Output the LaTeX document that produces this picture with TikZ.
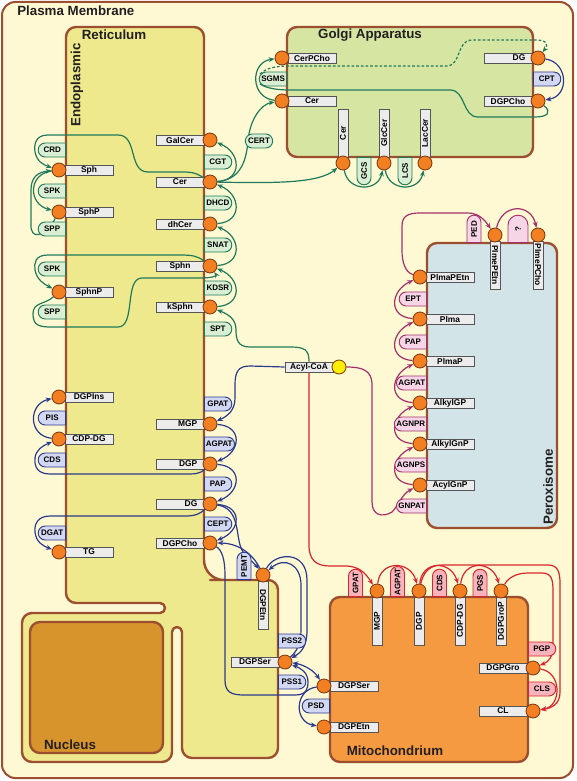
\documentclass[tikz,border=0pt]{standalone}
\usepackage{fontspec}
\setmainfont{Liberation Sans}
\usetikzlibrary{shapes.misc,arrows.meta}
\definecolor{pmfill}{HTML}{FEF9D2}
\definecolor{bord}{HTML}{9C4F30}
\definecolor{erfill}{HTML}{EEE98C}
\definecolor{gofill}{HTML}{D6E6A2}
\definecolor{pxfill}{HTML}{D3E4E8}
\definecolor{mifill}{HTML}{F59A40}
\definecolor{nufill}{HTML}{D7932C}
\definecolor{metfill}{HTML}{F28022}
\definecolor{metbord}{HTML}{7A3510}
\definecolor{labfill}{HTML}{ECECEC}
\definecolor{labbord}{HTML}{555555}
\definecolor{gline}{HTML}{1F7A5C}
\definecolor{gfill}{HTML}{D9EED3}
\definecolor{bline}{HTML}{2B3A8F}
\definecolor{bfill}{HTML}{D3D8F2}
\definecolor{pline}{HTML}{A3306E}
\definecolor{pfill}{HTML}{F6D6E6}
\definecolor{rline}{HTML}{D9262E}
\definecolor{rfill}{HTML}{F8B4BC}
\definecolor{acylfill}{HTML}{FFEE00}
\definecolor{titcol}{HTML}{231F20}
\newcommand\lblfont{\fontsize{6.3}{7}\selectfont\bfseries}
\newcommand\enzfont{\fontsize{6}{7}\selectfont\bfseries}
\newcommand\titfont{\fontsize{10}{12}\selectfont\bfseries}
\tikzset{
 met/.style={circle,fill=metfill,draw=metbord,line width=0.6pt,minimum size=10.5pt,inner sep=0pt},
 yel/.style={met,fill=acylfill},
 lab/.style={rectangle,draw=labbord,fill=labfill,line width=0.6pt,minimum width=36pt,minimum height=7.6pt,inner sep=0pt,font=\lblfont},
 labr/.style={lab,text width=26pt,align=right},
 enz/.style={rounded rectangle,line width=0.7pt,minimum width=22.5pt,minimum height=10.5pt,inner xsep=1pt,inner ysep=0pt,font=\enzfont},
 genz/.style={enz,draw=gline,fill=gfill},
 benz/.style={enz,draw=bline,fill=bfill},
 penz/.style={enz,draw=pline,fill=pfill},
 renz/.style={enz,draw=rline,fill=rfill},
 flatL/.style={rounded rectangle left arc=none},
 flatR/.style={rounded rectangle right arc=none},
 comp/.style={draw=bord,line width=1.8pt,line join=round},
 title/.style={font=\titfont,text=titcol,inner sep=0pt},
 tip/.style={-{Stealth[length=4.5pt,width=3.6pt]}},
 gl/.style={draw=gline,line width=0.9pt},
 bl/.style={draw=bline,line width=0.9pt},
 pl/.style={draw=pline,line width=0.9pt},
 rl/.style={draw=rline,line width=0.9pt},
}
\newcommand\metL[4]{\node[lab] at (#2-30,#3) {#4}; \node[met] (#1) at (#2,#3) {};}
\newcommand\metLr[4]{\node[labr] at (#2-30,#3) {#4}; \node[met] (#1) at (#2,#3) {};}
\newcommand\metR[4]{\node[lab] at (#2+30,#3) {#4}; \node[met] (#1) at (#2,#3) {};}
\newcommand\metU[4]{\node[lab,rotate=90] at (#2,#3-30) {#4}; \node[met] (#1) at (#2,#3) {};}
\newcommand\metD[5]{\node[lab,rotate=#5] at (#2,#3+30) {#4}; \node[met] (#1) at (#2,#3) {};}
\begin{document}
\begin{tikzpicture}[x=0.75pt,y=-0.75pt]
\useasboundingbox (0,0) rectangle (576,781);
% compartments
\draw[draw=bord,fill=pmfill,line width=1.5pt,rounded corners=10pt] (2,2) rectangle (573,778);
\draw[comp,fill=erfill,rounded corners=7.5pt] (66,300) -- (66,27) -- (204,27) -- (204,200)
  [rounded corners=15pt] -- (204,580) -- (230,580) [rounded corners=7.5pt] -- (278,580) -- (278,758) -- (182,758) -- (182,700)
  [rounded corners=3.75pt] -- (182,627) -- (172,627) -- (172,700) [rounded corners=7.5pt] -- (172,762) -- (22,762) -- (22,613) -- (100,613)
  [rounded corners=3.75pt] -- (165,613) -- (165,603) -- (100,603) [rounded corners=7.5pt] -- (66,603) -- cycle;
\draw[comp,fill=nufill,rounded corners=7.5pt] (30,622) rectangle (163,753);
\draw[comp,fill=gofill,rounded corners=7.5pt] (287,27) rectangle (533,157);
\draw[comp,fill=pxfill,rounded corners=7.5pt] (427,243) rectangle (557,528);
\draw[comp,fill=mifill,rounded corners=7.5pt] (330,597) rectangle (528,762);
% titles
\node[title,anchor=west] at (17,11) {Plasma Membrane};
\node[title] at (114,35) {Reticulum};
\node[title,rotate=90] at (77,85) {Endoplasmic};
\node[title] at (370,35) {Golgi Apparatus};
\node[title,rotate=90] at (548,487) {Peroxisome};
\node[title] at (395,751) {Mitochondrium};
\node[title] at (70,745) {Nucleus};
% ---- metabolites
\metL{GalCer}{210}{140}{GalCer}
\metL{Cer}{210}{182}{Cer}
\metL{dhCer}{210}{224}{dhCer}
\metL{Sphn}{210}{266}{Sphn}
\metL{kSphn}{210}{307}{kSphn}
\metLr{MGP}{210}{424}{MGP}
\metLr{DGP}{210}{464}{DGP}
\metLr{DG}{210}{504}{DG}
\metL{DGPCho}{210}{543}{DGPCho}
\metR{Sph}{59}{170}{Sph}
\metR{SphP}{59}{212}{SphP}
\metR{SphnP}{59}{292}{SphnP}
\metR{DGPIns}{59}{397}{DGPIns}
\metR{CDPDG}{59}{439}{CDP-DG}
\metR{TG}{59}{552}{TG}
\metR{gCPC}{282}{58}{CerPCho}
\metR{gCer}{282}{101}{Cer}
\metLr{gDG}{538}{58}{DG}
\metL{gPC}{538}{101}{DGPCho}
\metU{gCerB}{343}{163}{Cer}
\metU{gGlc}{384}{163}{GlcCer}
\metU{gLac}{425}{163}{LacCer}
\metR{xPE}{420}{277}{PlmaPEtn}
\metR{xPl}{420}{319}{Plma}
\metR{xPlP}{420}{361}{PlmaP}
\metR{xAGP}{420}{403}{AlkylGP}
\metR{xAGnP}{420}{444}{AlkylGnP}
\metR{xAcG}{420}{485}{AcylGnP}
\metD{xPmE}{495}{235}{PlmePEtn}{-90}
\metD{xPmC}{538}{235}{PlmePCho}{-90}
\metD{mMGP}{377}{591}{MGP}{90}
\metD{mDGP}{419}{591}{DGP}{90}
\metD{mCDP}{460}{591}{CDP-DG}{90}
\metD{mPGP}{501}{591}{DGPGroP}{90}
\metL{mPG}{533}{668}{DGPGro}
\metL{mCL}{533}{711}{CL}
\metR{mPS}{324}{686}{DGPSer}
\metR{mPE}{324}{727}{DGPEtn}
\metD{ePE}{263}{575}{DGPEtn}{-90}
\metL{ePS}{285}{662}{DGPSer}
\node[lab] (acylbox) at (309,367) {Acyl-CoA};
\node[yel] (acyl) at (339,367) {};
% ---- green connectors
\draw[gl,tip] (Cer) .. controls (243,180) and (241,152) .. (GalCer);
\draw[gl,tip] (dhCer) .. controls (243,222) and (241,194) .. (Cer);
\draw[gl,tip] (Sphn) .. controls (243,264) and (241,236) .. (dhCer);
\draw[gl,tip] (kSphn) .. controls (243,305) and (241,278) .. (Sphn);
\draw[gl,tip] (acylbox.north) .. controls (309,350) and (305,347) .. (290,347) -- (250,347) .. controls (238,347) and (236,340) .. (236,330) .. controls (236,320) and (230,315) .. (kSphn);
\draw[gl,tip] (Cer) .. controls (195,172) and (190,172) .. (180,172) -- (148,172) .. controls (128,172) and (138,135) .. (118,135) -- (48,135) .. controls (35,135) and (34,145) .. (35,152) .. controls (37,162) and (44,165) .. (Sph);
\draw[gl,tip] (Sph) .. controls (28,174) and (28,204) .. (SphP);
\draw[gl,tip] (SphP) .. controls (44,238) and (30,240) .. (31,224) -- (31,190) .. controls (31,177) and (38,172) .. (Sph);
\draw[gl,tip] (Sphn) .. controls (198,256) and (192,255) .. (180,255) -- (48,255) .. controls (35,255) and (34,263) .. (35,270) .. controls (37,280) and (44,284) .. (SphnP);
\draw[gl,tip] (SphnP) .. controls (44,305) and (33,302) .. (33,314) .. controls (33,326) and (40,327) .. (52,327) -- (118,327) .. controls (136,327) and (124,278) .. (142,278) -- (200,278) .. controls (212,278) and (217,276) .. (Sphn);
\draw[gl,tip] (Cer) .. controls (238,180) and (246,165) .. (248,141) .. controls (250,118) and (262,104) .. (gCer);
\draw[gl,tip] (Cer) .. controls (270,183) and (318,184) .. (gCerB);
\draw[gl,tip] (gCer) .. controls (250,98) and (250,62) .. (gCPC);
\draw[gl] (gPC) .. controls (552,112) and (548,117) .. (535,117) -- (478,117) .. controls (462,117) and (466,90) .. (450,90) -- (290,90) .. controls (276,90) and (266,88) .. (260,84);
\draw[gl,tip,dash pattern=on 2pt off 1.5pt] (260,74) .. controls (266,68) and (276,66) .. (290,66) -- (446,66) .. controls (462,66) and (456,40) .. (472,40) -- (536,40) .. controls (546,40) and (549,44) .. (gDG);
\draw[gl,tip] (gCerB) .. controls (348,192) and (378,192) .. (gGlc);
\draw[gl,tip] (gGlc) .. controls (389,192) and (419,192) .. (gLac);
% ---- blue connectors
\draw[bl,tip] (gDG) .. controls (568,62) and (570,96) .. (gPC);
\draw[bl,tip] (acylbox.west) -- (250,366) .. controls (238,366) and (235,372) .. (235,385) -- (235,398) .. controls (235,410) and (228,416) .. (MGP);
\draw[bl,tip] (MGP) .. controls (243,426) and (241,452) .. (DGP);
\draw[bl,tip] (DGP) .. controls (243,466) and (241,492) .. (DG);
\draw[bl,tip] (DG) .. controls (243,506) and (241,531) .. (DGPCho);
\draw[bl,tip] (DGP) .. controls (200,474) and (195,474) .. (185,474) -- (50,474) .. controls (38,474) and (34,467) .. (35,458) .. controls (36,450) and (42,446) .. (CDPDG);
\draw[bl,tip] (CDPDG) .. controls (28,436) and (28,404) .. (DGPIns);
\draw[bl,tip] (DG) .. controls (200,514) and (195,516) .. (185,516) -- (50,516) .. controls (38,516) and (34,524) .. (35,532) .. controls (36,542) and (43,546) .. (TG);
\draw[bl,tip] (DG) .. controls (238,508) and (236,530) .. (240,545) .. controls (244,558) and (252,560) .. (ePE);
\draw[bl,tip] (ePE) .. controls (252,552) and (236,543) .. (DGPCho);
\draw[bl,tip] (ePE) .. controls (275,552) and (307,550) .. (307,580) -- (307,630) .. controls (307,648) and (300,653) .. (ePS);
\draw[bl,tip] (ePS) .. controls (296,652) and (301,645) .. (301,630) -- (301,585) .. controls (301,565) and (285,556) .. (ePE);
\draw[bl,tip] (DGPCho) .. controls (222,550) and (225,560) .. (225,575) -- (225,680) .. controls (225,693) and (232,695) .. (245,695) -- (295,695) .. controls (307,695) and (308,688) .. (308,682) .. controls (308,672) and (300,668) .. (ePS);
\draw[bl,{Stealth[length=4.5pt,width=3.6pt]}-{Stealth[length=4.5pt,width=3.6pt]}] (ePS) .. controls (300,664) and (312,668) .. (mPS);
\draw[bl,tip] (mPS) .. controls (294,690) and (294,722) .. (mPE);
% ---- magenta connectors
\draw[pl,tip] (xPl) .. controls (388,317) and (390,291) .. (xPE);
\draw[pl,tip] (xPlP) .. controls (388,359) and (390,333) .. (xPl);
\draw[pl,tip] (xAGP) .. controls (388,401) and (390,375) .. (xPlP);
\draw[pl,tip] (xAGnP) .. controls (388,442) and (390,417) .. (xAGP);
\draw[pl,tip] (xAcG) .. controls (388,483) and (390,458) .. (xAGnP);
\draw[pl,tip] (acyl) .. controls (362,367) and (372,370) .. (372,385) -- (372,502) .. controls (372,515) and (382,518) .. (392,512) .. controls (398,506) and (402,494) .. (xAcG);
\draw[pl,tip] (xPE) .. controls (405,272) and (402,262) .. (402,250) -- (402,226) .. controls (402,216) and (408,213) .. (420,213) -- (468,213) .. controls (480,213) and (486,222) .. (xPmE);
\draw[pl,tip] (xPmE) .. controls (502,203) and (531,203) .. (xPmC);
% ---- red connectors
\draw[rl,tip] (acylbox.south) -- (309,545) .. controls (309,560) and (316,566) .. (330,566) -- (345,566) .. controls (360,566) and (366,574) .. (mMGP);
\draw[rl,tip] (mMGP) .. controls (380,560) and (410,560) .. (mDGP);
\draw[rl,tip] (mDGP) .. controls (422,560) and (451,560) .. (mCDP);
\draw[rl,tip] (mCDP) .. controls (463,560) and (492,560) .. (mPGP);
\draw[rl,tip] (mDGP) .. controls (423,574) and (428,565) .. (442,565) -- (548,565) .. controls (558,565) and (560,572) .. (560,584) -- (560,692) .. controls (560,704) and (552,708) .. (mCL);
\draw[rl,tip] (mPGP) .. controls (508,578) and (516,573) .. (528,573) -- (542,573) .. controls (552,573) and (553,580) .. (553,592) -- (553,645) .. controls (553,658) and (548,662) .. (mPG);
\draw[rl,tip] (mPG) .. controls (562,672) and (562,706) .. (mCL);
% ---- enzymes
\node[genz,flatL,anchor=west] at (204,162) {CGT};
\node[genz,flatL,anchor=west] at (204,203) {DHCD};
\node[genz,flatL,anchor=west] at (204,245) {SNAT};
\node[genz,flatL,anchor=west] at (204,288) {KDSR};
\node[genz,flatL,anchor=west] at (204,329) {SPT};
\node[genz,flatR,anchor=east] at (66,150) {CRD};
\node[genz,flatR,anchor=east] at (66,191) {SPK};
\node[genz,flatR,anchor=east] at (66,229) {SPP};
\node[genz,flatR,anchor=east] at (66,269) {SPK};
\node[genz,flatR,anchor=east] at (66,312) {SPP};
\node[genz] at (259,141) {CERT};
\node[genz,flatR,anchor=east] at (287,79) {SGMS};
\node[genz,flatR,rotate=90,anchor=east] at (364,157) {GCS};
\node[genz,flatR,rotate=90,anchor=east] at (405,157) {LCS};
\node[benz,flatL,anchor=west] at (533,79) {CPT};
\node[benz,flatL,anchor=west] at (204,404) {GPAT};
\node[benz,flatL,anchor=west] at (204,444) {AGPAT};
\node[benz,flatL,anchor=west] at (204,484) {PAP};
\node[benz,flatL,anchor=west] at (204,524) {CEPT};
\node[benz,flatR,anchor=east] at (66,418) {PIS};
\node[benz,flatR,anchor=east] at (66,460) {CDS};
\node[benz,flatR,anchor=east] at (66,533) {DGAT};
\node[benz,flatL,rotate=90,anchor=west] at (244,580) {PEMT};
\node[benz,flatL,anchor=west] at (278,641) {PSS2};
\node[benz,flatL,anchor=west] at (278,682) {PSS1};
\node[benz,flatR,anchor=east] at (330,706) {PSD};
\node[penz,flatR,anchor=east] at (427,299) {EPT};
\node[penz,flatR,anchor=east] at (427,342) {PAP};
\node[penz,flatR,anchor=east] at (427,383) {AGPAT};
\node[penz,flatR,anchor=east] at (427,424) {AGNPR};
\node[penz,flatR,anchor=east] at (427,465) {AGNPS};
\node[penz,flatR,anchor=east] at (427,506) {GNPAT};
\node[penz,flatL,rotate=90,anchor=west] at (474,243) {PED};
\node[penz,flatL,rotate=90,anchor=west,minimum height=15pt] at (518,243) {?};
\node[renz,flatL,rotate=90,anchor=west] at (355.5,597) {GPAT};
\node[renz,flatL,rotate=90,anchor=west] at (397.5,597) {AGPAT};
\node[renz,flatL,rotate=90,anchor=west] at (439.5,597) {CDS};
\node[renz,flatL,rotate=90,anchor=west] at (480,597) {PGS};
\node[renz,flatL,anchor=west] at (528,649) {PGP};
\node[renz,flatL,anchor=west] at (528,689) {CLS};
\end{tikzpicture}
\end{document}
